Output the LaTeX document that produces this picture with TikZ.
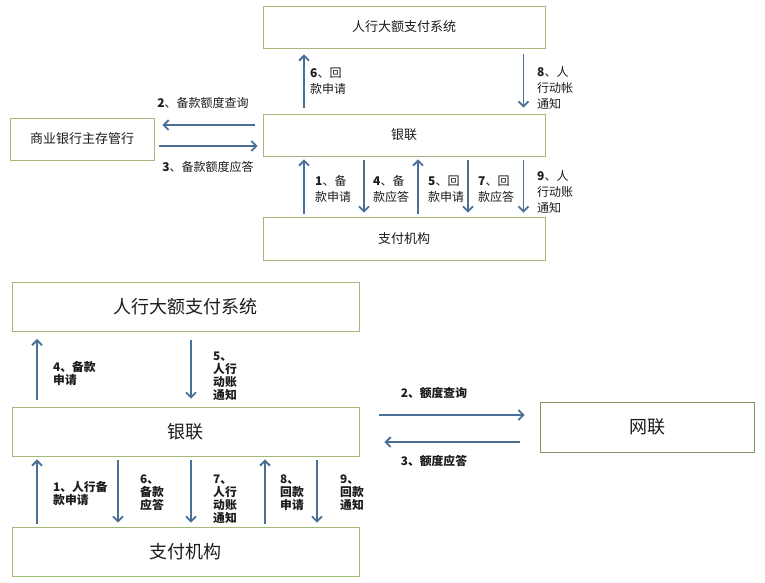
\documentclass[tikz,border=0pt]{standalone}
\usepackage{fontspec}
\setmainfont{Noto Sans CJK SC}
\usetikzlibrary{arrows.meta,positioning}
\definecolor{boxGreen}{RGB}{163,184,122}
\definecolor{flowBlue}{RGB}{74,112,152}
\definecolor{inkGrey}{RGB}{28,28,28}

\begin{document}
\begin{tikzpicture}[x=1pt, y=-1pt,
    >={Straight Barb[length=5pt,width=10pt]},
    box/.style={draw=boxGreen, line width=0.9pt, fill=white, text=inkGrey, inner sep=0pt},
    smallbox/.style={box, minimum width=282pt, minimum height=42pt, font=\fontsize{13}{15}\selectfont},
    bigbox/.style={box, minimum width=347pt, minimum height=49pt, font=\fontsize{18}{20}\selectfont},
    flow/.style={->, draw=flowBlue, line width=1.8pt, shorten <=#1, shorten >=#1},
    flow/.default=5pt,
    tag/.style={anchor=west, align=left, inner sep=0pt, text=inkGrey, font=\fontsize{12}{16}\selectfont},
    tinytag/.style={tag, font=\fontsize{11.8}{13}\selectfont\bfseries},
]
\useasboundingbox[fill=white] (0,0) rectangle (765,582);

% upper flow: boxes
\node[smallbox] (rhTop) at (404,27) {人行大额支付系统};
\node[smallbox] (ylTop) at (404,135) {银联};
\node[smallbox, minimum height=43pt] (zfTop) at (404,238.5) {支付机构};
\node[box, minimum width=144pt, minimum height=42pt, font=\fontsize{13}{15}\selectfont] (syTop) at (82,139) {商业银行主存管行};

% upper flow: columns and rows for the arrows
\coordinate (ta) at (304,0);
\coordinate (tb) at (364,0);
\coordinate (tc) at (418,0);
\coordinate (td) at (468,0);
\coordinate (te) at (523.5,0);
\coordinate (tq) at (0,125);
\coordinate (tr) at (0,146);

\draw[flow=6pt] (ylTop.north -| ta) -- (rhTop.south -| ta);
\draw[flow=6pt] (rhTop.south -| te) -- (ylTop.north -| te);
\draw[flow=8pt] (ylTop.west |- tq) -- (syTop.east |- tq);
\draw[flow=5pt] (syTop.east |- tr) -- (ylTop.west |- tr);
\foreach \c in {ta, tc}
    \draw[flow=3pt] (zfTop.north -| \c) -- (ylTop.south -| \c);
\foreach \c in {tb, td, te}
    \draw[flow=4pt] (ylTop.south -| \c) -- (zfTop.north -| \c);

\node[tag] (t6) at (310,81.5) {\textbf{6}、回\\款申请};
\node[tag] (t8) at (537,88) {\textbf{8}、人\\行动帐\\通知};
\node[tag, anchor=center] (t2) at (203,103) {\textbf{2}、备款额度查询};
\node[tag, anchor=center] (t3) at (208,167) {\textbf{3}、备款额度应答};
\node[tag] (t1) at (315,189) {\textbf{1}、备\\款申请};
\node[tag] (t4) at (373,189) {\textbf{4}、备\\款应答};
\node[tag] (t5) at (428,189) {\textbf{5}、回\\款申请};
\node[tag] (t7) at (478,189) {\textbf{7}、回\\款应答};
\node[tag] (t9) at (537,192) {\textbf{9}、人\\行动账\\通知};

% lower flow: boxes
\node[bigbox] (rhBot) at (185.5,307) {人行大额支付系统};
\node[bigbox] (ylBot) at (185.5,431.5) {银联};
\node[bigbox] (zfBot) at (185.5,551.5) {支付机构};
\node[box, draw=boxGreen!80!black, minimum width=214pt, minimum height=50pt, font=\fontsize{18}{20}\selectfont] (wlBot) at (647,427) {网联};

% lower flow: columns and rows for the arrows
\coordinate (ba) at (37,0);
\coordinate (bb) at (118,0);
\coordinate (bc) at (191,0);
\coordinate (bd) at (265,0);
\coordinate (be) at (317,0);
\coordinate (bq) at (0,415);
\coordinate (br) at (0,442);

\draw[flow=7pt] (ylBot.north -| ba) -- (rhBot.south -| ba);
\draw[flow=8pt] (rhBot.south -| bc) -- (ylBot.north -| bc);
\foreach \c in {ba, bd}
    \draw[flow=3pt] (zfBot.north -| \c) -- (ylBot.south -| \c);
\foreach \c in {bb, bc, be}
    \draw[flow=4pt] (ylBot.south -| \c) -- (zfBot.north -| \c);
\draw[flow, shorten <=20pt, shorten >=15pt] (ylBot.east |- bq) -- (wlBot.west |- bq);
\draw[flow, shorten <=20pt, shorten >=25pt] (wlBot.west |- br) -- (ylBot.east |- br);

\node[tinytag] (b4) at (53,373.5) {4、备款\\申请};
\node[tinytag] (b5) at (213,376.5) {5、\\人行\\动账\\通知};
\node[tinytag] (b1) at (53,493) {1、人行备\\款申请};
\node[tinytag] (b6) at (140,493) {6、\\备款\\应答};
\node[tinytag] (b7) at (213,499) {7、\\人行\\动账\\通知};
\node[tinytag] (b8) at (280,493) {8、\\回款\\申请};
\node[tinytag] (b9) at (340,493) {9、\\回款\\通知};
\node[tinytag, anchor=center] (b2) at (434,393) {2、额度查询};
\node[tinytag, anchor=center] (b3) at (434,461) {3、额度应答};
\end{tikzpicture}
\end{document}
